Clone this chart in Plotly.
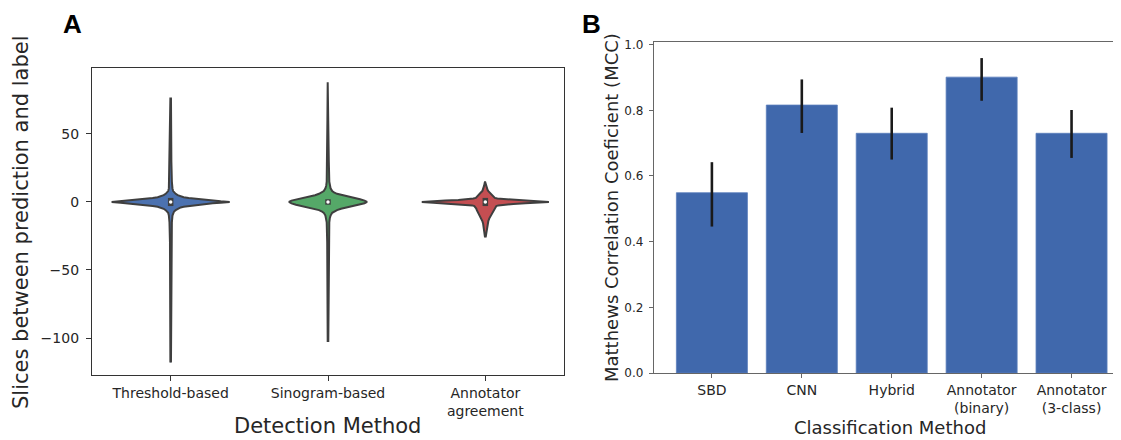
import plotly.graph_objects as go

# ---------------- Panel A data (violin profiles) ----------------
detect_methods = ["Threshold-based", "Sinogram-based", "Annotator<br>agreement"]
violin_colors = ["#4c72b0", "#55a868", "#c44e52"]

# y positions (slices) and relative density (half-width, red peak = 63.5)
thr_y = [-118, -100, -60, -30, -15, -10, -8, -7, -6, -5, -4, -3.5, -3, -2.5, -2, -1.5, -1, -0.5,
         0, 0.5, 1, 1.5, 2, 2.5, 3, 3.5, 4, 5, 6, 7, 8, 10, 15, 30, 60, 76]
thr_d = [0.3, 0.5, 0.6, 0.7, 1.2, 1.8, 2.5, 3.4, 5, 7, 10, 13, 18, 24, 30, 36, 42, 50,
         59, 50, 42, 36, 30, 24, 18, 13, 10, 7, 5, 3.4, 2.5, 1.8, 1.2, 0.7, 0.6, 0.3]

sin_y = [-103, -60, -30, -15, -12, -10, -8, -7, -6, -5, -4, -3, -2, -1,
         0, 1, 2, 3, 4, 5, 6, 7, 8, 10, 12, 15, 30, 60, 88]
sin_d = [0.3, 0.6, 0.8, 1.3, 1.8, 2.6, 4.2, 6, 9, 13, 19, 26, 32, 36.5,
         39, 36.5, 32, 26, 19, 13, 9, 6, 4.2, 2.6, 1.8, 1.3, 0.8, 0.6, 0.3]

ann_y = [-26, -22, -18, -16, -14, -12, -10, -8, -6, -5, -4, -3, -2.5, -2, -1.5, -1, -0.5,
         0, 0.5, 1, 1.5, 2, 2.5, 3, 4, 5, 6, 7, 8, 9, 10, 12, 15]
ann_d = [0.3, 1.2, 1.7, 2.2, 3, 4, 5.5, 7, 8.5, 9, 9.5, 11, 13, 18, 28, 40, 52,
         63.5, 52, 40, 27, 17, 12, 9.5, 8, 7, 6, 4.5, 3, 2.2, 1.8, 1.2, 0.3]

profiles_y = [thr_y, sin_y, ann_y]
profiles_d = [thr_d, sin_d, ann_d]
quart_lo = [-3, -2, -3]
quart_hi = [3, 2, 3]
medians = [0, 0, 0]

# ---------------- Panel B data ----------------
class_methods = ["SBD", "CNN", "Hybrid", "Annotator<br>(binary)", "Annotator<br>(3-class)"]
mcc = [0.549, 0.816, 0.730, 0.901, 0.730]
ci_low = [0.446, 0.731, 0.650, 0.829, 0.655]
ci_high = [0.642, 0.894, 0.808, 0.959, 0.801]

fig = go.Figure()

FONT = "DejaVu Sans"
OUTLINE = "#3f3f3f"
peak = max(max(d) for d in profiles_d)
half_w = 0.404  # category units for the widest violin

for i in range(3):
    ys = profiles_y[i]
    ds = profiles_d[i]
    xr = [i + d / peak * half_w for d in ds]
    xl = [i - d / peak * half_w for d in ds]
    fig.add_trace(go.Scatter(
        x=xr + xl[::-1], y=ys + ys[::-1], fill="toself", mode="lines",
        fillcolor=violin_colors[i], line=dict(color=OUTLINE, width=2),
        xaxis="x", yaxis="y", hoverinfo="skip", showlegend=False))
    fig.add_trace(go.Scatter(
        x=[i, i], y=[quart_lo[i], quart_hi[i]], mode="lines",
        line=dict(color=OUTLINE, width=5.5), xaxis="x", yaxis="y",
        hoverinfo="skip", showlegend=False))
    fig.add_trace(go.Scatter(
        x=[i], y=[medians[i]], mode="markers",
        marker=dict(color="white", size=3.5), xaxis="x", yaxis="y",
        hoverinfo="skip", showlegend=False))

fig.add_trace(go.Bar(
    x=list(range(len(class_methods))), y=mcc,
    width=0.79,
    marker=dict(color="#4068ac", line=dict(color="#5a7fbd", width=0.8)),
    error_y=dict(type="data", symmetric=False,
                 array=[h - m for h, m in zip(ci_high, mcc)],
                 arrayminus=[m - l for m, l in zip(mcc, ci_low)],
                 color="#1a1a1a", thickness=2.6, width=0),
    xaxis="x2", yaxis="y2", hoverinfo="skip", showlegend=False))

# page body has an 8px margin: lay out in window pixels, offset by it
OFF = 8
W, H = 1121 - OFF, 440 - OFF
def px_x(p):
    return (p - OFF) / W
def px_y(p):
    return 1 - (p - OFF) / H

def label(text, x, y, size, family=FONT, color="#262626", angle=0):
    return dict(text=text, x=px_x(x), y=px_y(y), xref="paper", yref="paper",
                xanchor="center", yanchor="middle", showarrow=False, textangle=angle,
                font=dict(size=size, family=family, color=color))

fig.update_layout(
    template="none",
    width=W, height=H,
    margin=dict(l=0, r=0, t=0, b=0, autoexpand=False),
    paper_bgcolor="white", plot_bgcolor="white",
    font=dict(family=FONT, color="#262626"),
    xaxis=dict(domain=[px_x(92), px_x(564)], range=[-0.5, 2.5], automargin=False,
               tickmode="array", tickvals=[0, 1, 2], ticktext=detect_methods,
               showline=True, linecolor="#333333", linewidth=1.3, mirror=True,
               ticks="outside", ticklen=5, tickcolor="#333333",
               tickfont=dict(size=14, family=FONT, color="#262626"),
               showgrid=False, zeroline=False, fixedrange=True),
    yaxis=dict(domain=[px_y(375), px_y(68)], range=[-127.2, 98.5], automargin=False,
               tickvals=[-100, -50, 0, 50], ticklabelstandoff=4,
               showline=True, linecolor="#333333", linewidth=1.3, mirror=True,
               ticks="outside", ticklen=5, tickcolor="#333333",
               tickfont=dict(size=14, family=FONT, color="#262626"),
               showgrid=False, zeroline=False, fixedrange=True),
    xaxis2=dict(domain=[px_x(654), 1.0], range=[-0.644, 4.55], automargin=False,
                tickmode="array", tickvals=list(range(5)), ticktext=class_methods,
                showline=True, linecolor="#666666", linewidth=1.3, mirror=True,
                ticks="outside", ticklen=4, tickcolor="#666666",
                tickfont=dict(size=14, family=FONT, color="#262626"),
                showgrid=False, zeroline=False, fixedrange=True, anchor="y2"),
    yaxis2=dict(domain=[px_y(373), px_y(42)], range=[0, 1.008], automargin=False,
                tickvals=[0, 0.2, 0.4, 0.6, 0.8, 1.0], ticktext=["0.0", "0.2", "0.4", "0.6", "0.8", "1.0"],
                ticklabelstandoff=3,
                showline=True, linecolor="#666666", linewidth=1.3,
                ticks="outside", ticklen=4, tickcolor="#666666",
                tickfont=dict(size=12, family=FONT, color="#262626"),
                showgrid=False, zeroline=False, fixedrange=True, anchor="x2"),
    annotations=[
        label("<b>A</b>", 72, 24, 26, family="Liberation Sans", color="black"),
        label("<b>B</b>", 591, 24, 26, family="Liberation Sans", color="black"),
        label("Slices between prediction and label", 21, 222, 21, angle=-90),
        label("Detection Method", 327, 426, 21),
        label("Matthews Correlation Coeficient (MCC)", 611, 208, 18, angle=-90),
        label("Classification Method", 890, 427, 18),
    ],
)

fig.write_html("out.html")
